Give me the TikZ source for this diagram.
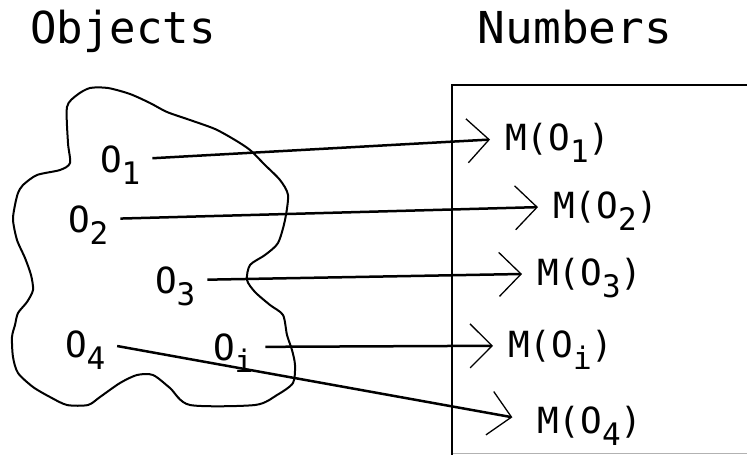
\documentclass[tikz,border=0pt]{standalone}
\usepackage{fontspec}
\setmainfont{DejaVu Sans Mono}
\usetikzlibrary{arrows.meta}
\newcommand\sbx[1]{\smash{\raisebox{-12pt}{\fontsize{31}{31}\selectfont #1}}}
\begin{document}
\begin{tikzpicture}[x=1pt,y=-1pt,
  title/.style={inner sep=0pt, outer sep=0pt, anchor=base, font=\fontsize{44}{44}\selectfont},
  lab/.style={inner sep=0pt, outer sep=0pt, anchor=base west, font=\fontsize{36}{36}\selectfont},
  conn/.style={line width=2.5pt, shorten <=12pt, shorten >=15pt,
    -{Straight Barb[length=22pt,width=44pt,line width=1.3pt]}},
  blob/.style={line width=2pt, line join=round},
  box/.style={line width=2.6pt}]
\useasboundingbox (0,0) rectangle (747,455);
% titles
\node[title] (tobj) at (123,43) {Objects};
\node[title] (tnum) at (575,43) {\scalebox{1.05}[1]{Numbers}};
% blob
\draw[blob] plot[smooth cycle, tension=0.45] coordinates {
 (90,88) (108,88) (130,94) (150,103) (167,112) (190,120) (215,129) (235,140)
 (250,150) (265,165) (280,180) (288,195) (285,220) (278,243) (265,255)
 (250,265) (247,280) (255,292) (270,305) (283,315) (287,335) (292,350)
 (295,365) (293,383) (277,395) (255,405) (190,405) (170,388) (153,375)
 (137,375) (120,383) (100,397) (88,405) (67,405) (50,397) (33,387) (18,373)
 (13,357) (12,337) (15,325) (18,313) (27,302) (33,290) (31,275) (25,258)
 (17,240) (13,220) (15,205) (18,193) (23,185) (37,175) (60,170) (70,163)
 (68,143) (67,107) (77,95)};
% box
\draw[box] (452,455) -- (452,85) -- (750,85);
\draw[gray!60, line width=0.8pt] (453,453) -- (747,453);
% object labels
\node[lab] (o1) at (100,172) {O\sbx{1}};
\node[lab] (o2) at (68,232) {O\sbx{2}};
\node[lab] (o3) at (155,293) {O\sbx{3}};
\node[lab] (o4) at (65,357) {O\sbx{4}};
\node[lab] (oi) at (213,360) {O\sbx{i}};
% number labels
\node[lab] (m1) at (505,150) {M(O\sbx{1})};
\node[lab] (m2) at (553,218) {M(O\sbx{2})};
\node[lab] (m3) at (537,285) {M(O\sbx{3})};
\node[lab] (mi) at (508,357) {M(O\sbx{i})};
\node[lab] (m4) at (537,433) {M(O\sbx{4})};
% connectors
\draw[conn] (o1.east) -- (m1.west);
\draw[conn] (o2.east) -- (m2.west);
\draw[conn] (o3.east) -- (m3.west);
\draw[conn] (oi.east) -- (mi.west);
\draw[conn, shorten >=25pt] (o4.east) -- (m4.west);
\end{tikzpicture}
\end{document}
